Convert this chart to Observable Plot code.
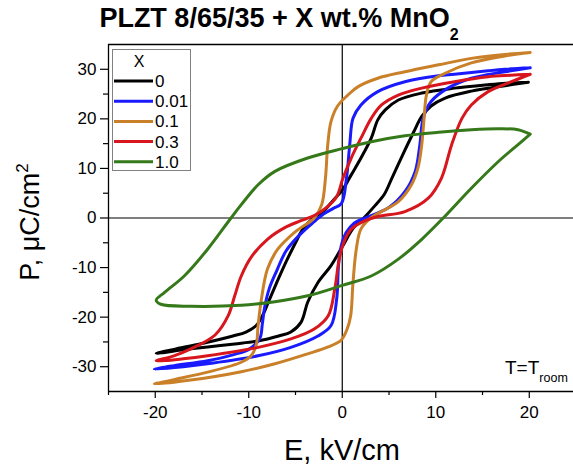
<!DOCTYPE html>
<html><head><meta charset="utf-8">
<script src="https://cdn.jsdelivr.net/npm/d3@7"></script>
<script src="https://cdn.jsdelivr.net/npm/@observablehq/plot@0.6"></script>
<style>
html,body{margin:0;padding:0;background:#fff;}
#chart{width:573px;height:466px;overflow:hidden;}
</style></head><body><div id="chart"></div>
<script>
// ---- data ----
const seriesLabels = ["0", "0.01", "0.1", "0.3", "1.0"];
const seriesColors = ["#000000", "#1a1aff", "#c98028", "#d7161d", "#36791a"];

// each loop: [E (kV/cm), P (uC/cm^2)] in traversal order
const loopX0 = [
  [19.9,27.4],[17.5,27.2],[15.6,26.9],[12.0,26.2],[8.5,25.2],[6.0,23.8],[4.6,21.8],[3.8,19.8],[3.1,16.1],[2.0,12.1],[0.96,8.7],[0,5.6],[-1.0,3.5],[-2.0,1.4],[-3.1,0.0],[-4.3,-2.5],[-5.0,-5.0],[-6.0,-8.8],[-7.0,-13.0],[-7.8,-16.5],[-8.4,-19.2],[-9.2,-21.7],[-10.3,-23.0],[-11.7,-23.8],[-15.0,-25.3],[-18.0,-26.5],[-19.9,-27.3],
  [-17.0,-26.6],[-14.4,-26.0],[-11.5,-25.4],[-9.0,-24.8],[-6.8,-23.8],[-5.5,-23.0],[-4.4,-21.0],[-3.7,-17.0],[-2.6,-13.0],[-1.2,-9.6],[0,-5.8],[1.2,-2.0],[2.2,-0.2],[3.5,2.5],[4.5,4.8],[5.3,8.0],[6.5,12.9],[7.6,17.2],[8.5,20.5],[9.5,22.6],[11.0,24.2],[13.8,25.6],[17.4,26.7],[19.9,27.4]
];
const loopX001 = [
  [20.1,30.3],[17.4,30.0],[15.6,29.7],[12.0,29.0],[10.3,28.7],[6.7,27.5],[3.8,25.5],[2.0,22.8],[1.15,20.1],[0.8,14.8],[0.45,8.0],[-0.1,2.9],[-1.0,1.9],[-2.0,0.8],[-3.1,-0.9],[-4.5,-3.3],[-6.0,-6.6],[-7.0,-10.6],[-7.8,-14.2],[-8.3,-18.0],[-8.55,-21.4],[-8.8,-24.2],[-9.9,-26.4],[-11.7,-27.6],[-14.4,-28.8],[-18.0,-29.8],[-20.1,-30.5],
  [-17.0,-30.0],[-14.4,-29.4],[-9.0,-27.8],[-5.5,-26.1],[-2.6,-23.8],[-1.2,-21.7],[-0.6,-16.4],[-0.4,-9.6],[-0.1,-5.5],[0.4,-3.0],[1.3,-1.0],[2.4,0.0],[4.9,2.0],[6.7,5.3],[7.8,9.4],[8.3,14.8],[8.65,20.1],[9.5,23.5],[11.3,26.2],[13.8,28.2],[17.4,29.5],[20.1,30.3]
];
const loopX01 = [
  [20.1,33.4],[17.4,33.0],[13.8,32.2],[10.3,30.9],[6.7,29.5],[3.8,28.2],[1.7,26.5],[0.6,24.8],[-0.5,22.6],[-1.2,19.5],[-1.55,14.8],[-1.8,8.0],[-2.2,2.7],[-3.0,0.0],[-5.1,-2.9],[-6.9,-6.3],[-8.0,-10.3],[-8.65,-16.4],[-9.0,-21.7],[-9.2,-25.6],[-9.75,-27.8],[-10.8,-29.1],[-14.4,-31.1],[-18.0,-32.6],[-20.1,-33.5],
  [-16.2,-32.7],[-10.8,-31.0],[-7.2,-29.4],[-3.7,-27.4],[-1.5,-26.0],[-0.1,-24.6],[0.5,-22.5],[0.9,-19.7],[1.15,-13.0],[1.5,-6.3],[2.0,-2.2],[3.1,0.1],[6.0,3.3],[7.4,6.7],[8.1,10.1],[8.5,14.8],[8.75,20.1],[9.0,24.8],[9.5,27.5],[11.0,29.2],[13.8,31.3],[17.4,32.7],[20.1,33.4]
];
const loopX03 = [
  [20.1,29.0],[18.0,28.8],[15.6,28.5],[12.0,27.5],[8.5,26.2],[6.0,24.8],[4.2,22.8],[3.1,20.1],[2.0,16.1],[0.96,12.1],[0.07,8.0],[-0.6,4.3],[-1.7,2.1],[-3.0,0.5],[-4.5,-0.6],[-6.0,-1.8],[-8.0,-4.3],[-9.7,-7.8],[-10.8,-11.7],[-11.5,-15.7],[-12.2,-19.7],[-13.6,-23.6],[-16.2,-26.4],[-18.0,-27.8],[-19.9,-28.8],
  [-17.0,-28.4],[-14.4,-27.8],[-9.0,-26.1],[-5.5,-24.4],[-3.0,-22.4],[-1.5,-19.7],[-0.8,-14.3],[-0.3,-8.0],[0.3,-4.3],[1.0,-2.2],[2.4,-0.6],[3.8,0.3],[6.7,1.3],[9.2,4.0],[10.6,8.0],[11.7,14.8],[12.8,20.1],[13.8,22.8],[15.6,25.5],[18.1,27.5],[20.1,29.0]
];
const loopX10 = [
  [20.1,16.9],[18.8,17.8],[16.7,18.0],[13.8,17.8],[10.3,17.3],[6.7,16.6],[3.1,15.4],[0,14.0],[-3.7,12.1],[-7.2,9.4],[-9.0,6.7],[-10.8,2.7],[-11.9,0],[-14.4,-6.3],[-16.9,-11.7],[-19.0,-15.0],[-19.9,-16.6],
  [-19.4,-17.4],[-16.2,-17.8],[-10.8,-17.6],[-7.2,-16.9],[-3.7,-15.7],[0,-13.6],[3.1,-11.7],[6.0,-8.3],[8.5,-4.3],[10.8,0],[13.8,6.0],[16.7,11.4],[18.8,14.8],[20.1,16.9]
];
const loops = [loopX0, loopX001, loopX01, loopX03, loopX10];

const xTicks = [-20, -10, 0, 10, 20];
const xMinorTicks = [-25, -15, -5, 5, 15];
const yTicks = [-30, -20, -10, 0, 10, 20, 30];
const yMinorTicks = [-25, -15, -5, 5, 15, 25];
const xDomain = [-25, 24.73];
const yDomain = [-35, 35];

// ---- chart ----
const FONT = "'Liberation Sans', Arial, Helvetica, sans-serif";
const fmt = d => String(d);

const svg = Plot.plot({
  width: 573,
  height: 466,
  marginLeft: 108,
  marginRight: 0,
  marginTop: 44,
  marginBottom: 75,
  style: {fontFamily: FONT, fontSize: "17px", background: "#fff", color: "#000", overflow: "visible"},
  x: {domain: xDomain},
  y: {domain: yDomain},
  marks: [
    Plot.ruleX([0], {stroke: "#000", strokeWidth: 1.2}),
    Plot.ruleY([0], {stroke: "#000", strokeWidth: 1.2}),
    ...loops.map((d, i) => Plot.line(d, {
      x: p => p[0], y: p => p[1],
      stroke: seriesColors[i], strokeWidth: 3, curve: "catmull-rom"
    })),
    Plot.ruleY([yDomain[1]], {stroke: "#000", strokeWidth: 1.3}),
    Plot.ruleY([yDomain[0]], {stroke: "#000", strokeWidth: 1.3}),
    Plot.ruleX([xDomain[0]], {stroke: "#000", strokeWidth: 1.3}),
    Plot.axisX(xTicks, {tickSize: 7, tickPadding: 7, tickFormat: fmt, label: null, strokeWidth: 1.2}),
    Plot.axisX(xMinorTicks, {tickSize: 4, tickFormat: () => "", label: null, strokeWidth: 1.2}),
    Plot.axisY(yTicks, {tickSize: 8, tickPadding: 4, tickFormat: fmt, label: null, strokeWidth: 1.2}),
    Plot.axisY(yMinorTicks, {tickSize: 5, tickFormat: () => "", label: null, strokeWidth: 1.2})
  ]
});

const s = d3.select(svg);

// title
const title = s.append("text")
  .attr("x", 279).attr("y", 27)
  .attr("text-anchor", "middle")
  .style("font-family", FONT).style("font-weight", "bold").style("font-size", "27px")
  .attr("fill", "#000");
title.append("tspan").text("PLZT 8/65/35 + X wt.% MnO");
title.append("tspan").attr("dy", 13).style("font-size", "16px").text("2");

// y label
const yl = s.append("text")
  .attr("transform", "translate(39,222) rotate(-90)")
  .attr("text-anchor", "middle")
  .style("font-family", FONT).style("font-size", "27px").attr("fill", "#000");
yl.append("tspan").text("P, \u03bcC/cm");
yl.append("tspan").attr("dy", -11).style("font-size", "17px").text("2");

// x label
s.append("text")
  .attr("x", 342).attr("y", 460)
  .attr("text-anchor", "middle")
  .style("font-family", FONT).style("font-size", "29px").attr("fill", "#000")
  .text("E, kV/cm");

// T = T_room
const tt = s.append("text")
  .attr("x", 505).attr("y", 374)
  .attr("text-anchor", "start")
  .style("font-family", FONT).style("font-size", "19px").attr("fill", "#000");
tt.append("tspan").text("T=T");
tt.append("tspan").attr("dy", 8).style("font-size", "12.5px").text("room");

// legend
const lg = s.append("g");
lg.append("rect").attr("x", 112.5).attr("y", 49.5).attr("width", 78).attr("height", 121)
  .attr("fill", "#fff").attr("stroke", "#808080").attr("stroke-width", 1);
lg.append("text").attr("x", 139).attr("y", 67).attr("text-anchor", "middle")
  .style("font-family", FONT).style("font-size", "16px").text("X");
seriesLabels.forEach((lab, i) => {
  const y = 81 + i * 20.2;
  lg.append("line").attr("x1", 114).attr("x2", 153).attr("y1", y).attr("y2", y)
    .attr("stroke", seriesColors[i]).attr("stroke-width", 3);
  lg.append("text").attr("x", 155).attr("y", y + 6)
    .attr("text-anchor", "start")
    .style("font-family", FONT).style("font-size", "17px").text(lab);
});

document.getElementById("chart").appendChild(svg);
</script>
</body></html>
